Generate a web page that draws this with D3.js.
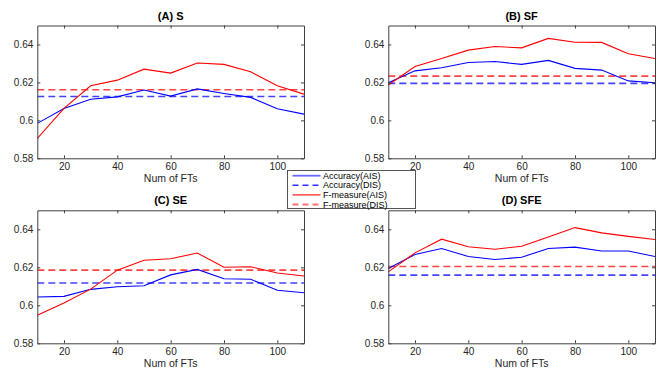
<!DOCTYPE html>
<html>
<head>
<meta charset="utf-8">
<script src="https://cdn.jsdelivr.net/npm/d3@7"></script>
<style>
  body { margin: 0; background: #fff; }
  svg { display: block; font-family: "Liberation Sans", Arial, sans-serif; }
</style>
</head>
<body>
<svg id="chart" width="665" height="378"></svg>
<script>
// ---------- data ----------
const numFTs = [10, 20, 30, 40, 50, 60, 70, 80, 90, 100, 110];
const xTicks = [20, 40, 60, 80, 100];
const yTicks = [0.58, 0.6, 0.62, 0.64];
const yTickLabels = ["0.58", "0.6", "0.62", "0.64"];
const panelTitles = ["(A) S", "(B) SF", "(C) SE", "(D) SFE"];
const legendLabels = ["Accuracy(AIS)", "Accuracy(DIS)", "F-measure(AIS)", "F-measure(DIS)"];

const accAIS_S   = [0.5984, 0.6063, 0.6111, 0.6124, 0.6160, 0.6128, 0.6166, 0.6142, 0.6121, 0.6061, 0.6033];
const fmAIS_S    = [0.5905, 0.6063, 0.6182, 0.6212, 0.6270, 0.6249, 0.6302, 0.6295, 0.6256, 0.6182, 0.6138];
const accDIS_S   = 0.6126;
const fmDIS_S    = 0.6161;

const accAIS_SF  = [0.6198, 0.6261, 0.6277, 0.6305, 0.6310, 0.6295, 0.6316, 0.6274, 0.6265, 0.6208, 0.6198];
const fmAIS_SF   = [0.6186, 0.6284, 0.6326, 0.6370, 0.6389, 0.6382, 0.6432, 0.6412, 0.6411, 0.6351, 0.6326];
const accDIS_SF  = 0.6195;
const fmDIS_SF   = 0.6233;

const accAIS_SE  = [0.6044, 0.6047, 0.6084, 0.6098, 0.6103, 0.6160, 0.6189, 0.6140, 0.6137, 0.6079, 0.6066];
const fmAIS_SE   = [0.5947, 0.6012, 0.6085, 0.6185, 0.6237, 0.6245, 0.6275, 0.6200, 0.6203, 0.6170, 0.6154];
const accDIS_SE  = 0.6117;
const fmDIS_SE   = 0.6185;

const accAIS_SFE = [0.6194, 0.6267, 0.6299, 0.6257, 0.6241, 0.6253, 0.6299, 0.6306, 0.6286, 0.6286, 0.6257];
const fmAIS_SFE  = [0.6176, 0.6276, 0.6348, 0.6308, 0.6295, 0.6311, 0.6360, 0.6409, 0.6381, 0.6363, 0.6346];
const accDIS_SFE = 0.6159;
const fmDIS_SFE  = 0.6204;

// ---------- layout ----------
const panels = [
  { title: panelTitles[0], acc: accAIS_S,   fm: fmAIS_S,   accD: accDIS_S,   fmD: fmDIS_S,   x0: 37.3,  x1: 304,   y0: 25.5,  y1: 158.3 },
  { title: panelTitles[1], acc: accAIS_SF,  fm: fmAIS_SF,  accD: accDIS_SF,  fmD: fmDIS_SF,  x0: 388.3, x1: 655,   y0: 25.5,  y1: 158.3 },
  { title: panelTitles[2], acc: accAIS_SE,  fm: fmAIS_SE,  accD: accDIS_SE,  fmD: fmDIS_SE,  x0: 37.3,  x1: 304,   y0: 210.3, y1: 343.3 },
  { title: panelTitles[3], acc: accAIS_SFE, fm: fmAIS_SFE, accD: accDIS_SFE, fmD: fmDIS_SFE, x0: 388.3, x1: 655,   y0: 210.3, y1: 343.3 }
];

const BLUE = "#0000ff", RED = "#ff0000";
const BLUE_D = "#4444ff", RED_D = "#ff4444";
const AXIS = "#404040", TXT = "#262626";

const svg = d3.select("#chart");

panels.forEach(p => {
  const x = d3.scaleLinear().domain([10, 110]).range([p.x0, p.x1]);
  const y = d3.scaleLinear().domain([0.58, 0.65]).range([p.y1, p.y0]);
  const g = svg.append("g");

  const cid = "clip" + p.title.replace(/\W/g, "");
  svg.append("clipPath").attr("id", cid).append("rect")
    .attr("x", p.x0).attr("y", p.y0).attr("width", p.x1 - p.x0).attr("height", p.y1 - p.y0);

  const plot = g.append("g").attr("clip-path", `url(#${cid})`);
  const line = d3.line().x((d, i) => x(numFTs[i])).y(d => y(d));

  // dashed DIS lines
  plot.append("line").attr("x1", x(10)).attr("x2", x(110))
    .attr("y1", y(p.fmD)).attr("y2", y(p.fmD))
    .attr("stroke", RED_D).attr("stroke-width", 1.6).attr("stroke-dasharray", "7,4");
  plot.append("line").attr("x1", x(10)).attr("x2", x(110))
    .attr("y1", y(p.accD)).attr("y2", y(p.accD))
    .attr("stroke", BLUE_D).attr("stroke-width", 1.6).attr("stroke-dasharray", "7,4");

  // AIS lines
  plot.append("path").datum(p.acc).attr("d", line)
    .attr("fill", "none").attr("stroke", BLUE).attr("stroke-width", 1.1);
  plot.append("path").datum(p.fm).attr("d", line)
    .attr("fill", "none").attr("stroke", RED).attr("stroke-width", 1.1);

  // axes (box with inward ticks on all sides)
  const axB = g.append("g").attr("transform", `translate(0,${p.y1})`)
    .call(d3.axisBottom(x).tickValues(xTicks).tickSizeInner(-3).tickSizeOuter(0).tickPadding(4));
  const axT = g.append("g").attr("transform", `translate(0,${p.y0})`)
    .call(d3.axisTop(x).tickValues(xTicks).tickSizeInner(-3).tickSizeOuter(0).tickFormat(""));
  const axL = g.append("g").attr("transform", `translate(${p.x0},0)`)
    .call(d3.axisLeft(y).tickValues(yTicks).tickSizeInner(-3).tickSizeOuter(0).tickPadding(4)
      .tickFormat((d, i) => yTickLabels[i]));
  const axR = g.append("g").attr("transform", `translate(${p.x1},0)`)
    .call(d3.axisRight(y).tickValues(yTicks).tickSizeInner(-3).tickSizeOuter(0).tickFormat(""));

  [axB, axT, axL, axR].forEach(a => {
    a.select(".domain").attr("stroke", AXIS).attr("stroke-width", 1);
    a.selectAll(".tick line").attr("stroke", AXIS);
    a.selectAll(".tick text").attr("fill", TXT).attr("font-size", "10px")
      .attr("font-family", "'Liberation Sans', Arial, sans-serif");
  });
  axB.selectAll(".tick text").attr("dy", "0.78em");

  // title
  g.append("text").attr("x", (p.x0 + p.x1) / 2).attr("y", p.y0 - 6)
    .attr("text-anchor", "middle").attr("font-size", "11px").attr("font-weight", "bold")
    .attr("fill", "#000").text(p.title);

  // x label
  g.append("text").attr("x", (p.x0 + p.x1) / 2).attr("y", p.y1 + 20.5)
    .attr("dy", "0.35em").attr("text-anchor", "middle").attr("font-size", "10.5px")
    .attr("fill", TXT).text("Num of FTs");
});

// ---------- legend ----------
const leg = svg.append("g");
leg.append("rect").attr("x", 287.5).attr("y", 170.5).attr("width", 128).attr("height", 38)
  .attr("fill", "#fff").attr("stroke", "#555").attr("stroke-width", 1);
const legStyles = [
  { color: "#6a6aff", dash: null,  w: 1.8 },
  { color: "#3030ff", dash: "6,4", w: 1.4 },
  { color: "#ff0000", dash: null,  w: 1.1 },
  { color: "#ff7070", dash: "6,4", w: 1.8 }
];
const legY = d3.scalePoint().domain(legendLabels).range([175.7, 204.5]);
legendLabels.forEach((lab, i) => {
  const yy = legY(lab);
  const s = legStyles[i];
  leg.append("line").attr("x1", 292.5).attr("x2", 320.5).attr("y1", yy).attr("y2", yy)
    .attr("stroke", s.color).attr("stroke-width", s.w)
    .attr("stroke-dasharray", s.dash);
  leg.append("text").attr("x", 323).attr("y", yy).attr("dy", "0.35em")
    .attr("font-size", "9px").attr("fill", "#000").text(lab);
});
</script>
</body>
</html>
